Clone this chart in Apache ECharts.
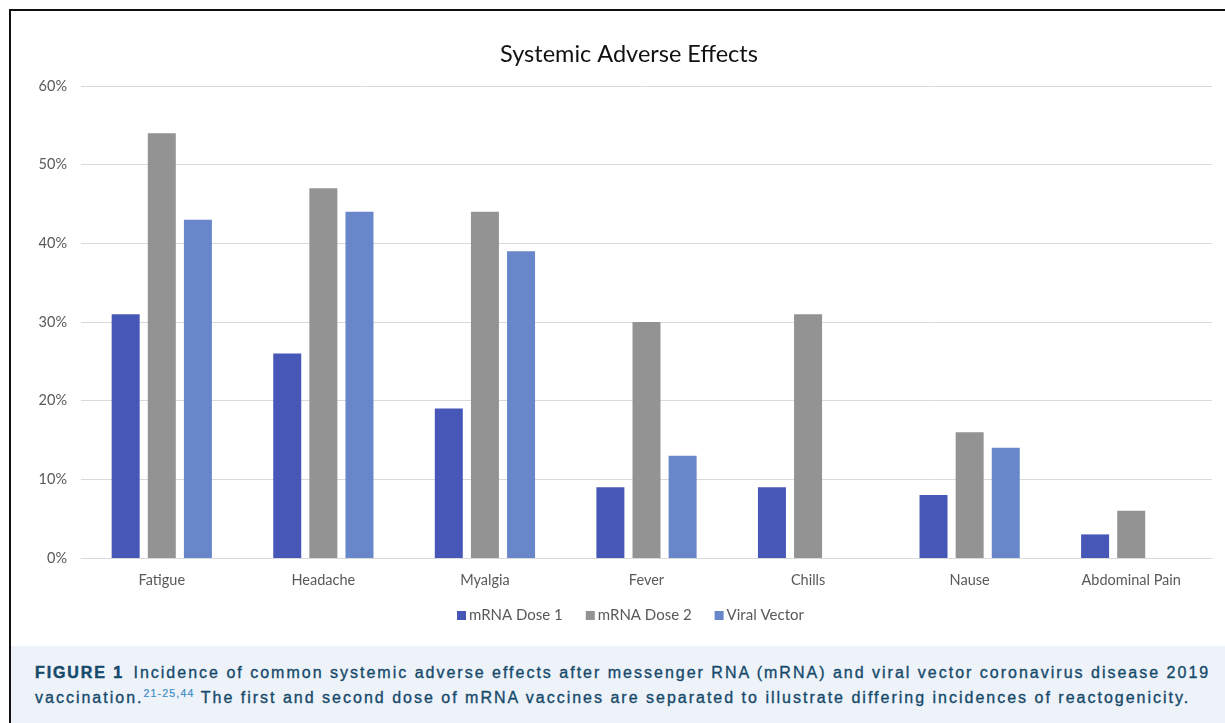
<!DOCTYPE html>
<html>
<head>
<meta charset="utf-8">
<script src="https://cdn.jsdelivr.net/npm/echarts@6/dist/echarts.min.js"></script>
<style>
  html, body { margin: 0; padding: 0; background: #ffffff; }
  body { width: 1225px; height: 723px; position: relative; overflow: hidden; }
  #frame {
    position: absolute; left: 9px; top: 9px; width: 1230px; height: 720px;
    border-left: 2px solid #111; border-top: 2px solid #111; box-sizing: border-box;
  }
  #chart { position: absolute; left: 0; top: 0; width: 1225px; height: 646px; }
  #caption {
    position: absolute; left: 11px; top: 646px; width: 1214px; height: 77px;
    background: #eef3fa; box-sizing: border-box; padding: 14px 0 0 24px;
    font-family: "Liberation Sans", Arial, sans-serif; font-size: 16px;
    letter-spacing: 2.0px; line-height: 25px; color: #164a6b; white-space: nowrap;
    -webkit-text-stroke: 0.35px #164a6b;
  }
  #caption b { font-weight: 900; letter-spacing: 1.9px; margin-right: 3px; -webkit-text-stroke: 0.5px #164a6b; }
  #caption sup { font-size: 10.5px; color: #3d8cc4; line-height: 0; letter-spacing: 1.2px; -webkit-text-stroke: 0.2px #3d8cc4; }
</style>
</head>
<body>
<div id="chart"></div>
<div id="frame"></div>
<div id="caption">
  <div><b>FIGURE 1</b> Incidence of common systemic adverse effects after messenger RNA (mRNA) and viral vector coronavirus disease 2019</div>
  <div>vaccination.<sup>21-25,44</sup> The first and second dose of mRNA vaccines are separated to illustrate differing incidences of reactogenicity.</div>
</div>
<script>
// Symptom categories along the x axis
const categories = ['Fatigue', 'Headache', 'Myalgia', 'Fever', 'Chills', 'Nause', 'Abdominal Pain'];
// Incidence in percent for each vaccine group
const mrnaDose1 = [31, 26, 19, 9, 9, 8, 3];
const mrnaDose2 = [54, 47, 44, 30, 31, 16, 6];
const viralVector = [43, 44, 39, 13, 0, 14, 0];
const seriesNames = ['mRNA Dose 1', 'mRNA Dose 2', 'Viral Vector'];
const seriesColors = ['#4757b7', '#939393', '#6886ca'];

const chart = echarts.init(document.getElementById('chart'), null, { renderer: 'canvas' });
const textFont = 'Lato, "Open Sans", sans-serif';

const dataSets = [mrnaDose1, mrnaDose2, viralVector];
chart.setOption({
  animation: false,
  backgroundColor: 'transparent',
  title: {
    text: 'Systemic Adverse Effects',
    left: 624, top: 37, textAlign: 'center',
    textStyle: { fontFamily: textFont, fontSize: 23.5, fontWeight: 'normal', color: '#111111' }
  },
  legend: {
    data: seriesNames,
    left: 452, top: 603,
    itemWidth: 9, itemHeight: 9, itemGap: 23,
    icon: 'rect',
    textStyle: { fontFamily: textFont, fontSize: 15, color: '#595959', padding: [0, 0, 0, -2] }
  },
  grid: { left: 81, right: 13, top: 86, bottom: 88, containLabel: false },
  xAxis: {
    type: 'category',
    data: categories,
    axisLine: { lineStyle: { color: '#d9d9d9', width: 1 } },
    axisTick: { show: false },
    axisLabel: { fontFamily: textFont, fontSize: 14.5, color: '#595959', margin: 15 }
  },
  yAxis: {
    type: 'value',
    min: 0, max: 60, interval: 10,
    axisLine: { show: false },
    axisTick: { show: false },
    splitLine: { lineStyle: { color: '#d9d9d9', width: 1 } },
    axisLabel: { fontFamily: textFont, fontSize: 14.5, color: '#595959', margin: 14, formatter: '{value}%' }
  },
  series: seriesNames.map((name, i) => ({
    name: name,
    type: 'bar',
    data: dataSets[i],
    barWidth: 28,
    barGap: '29%',
    itemStyle: { color: seriesColors[i] }
  }))
});
</script>
</body>
</html>
